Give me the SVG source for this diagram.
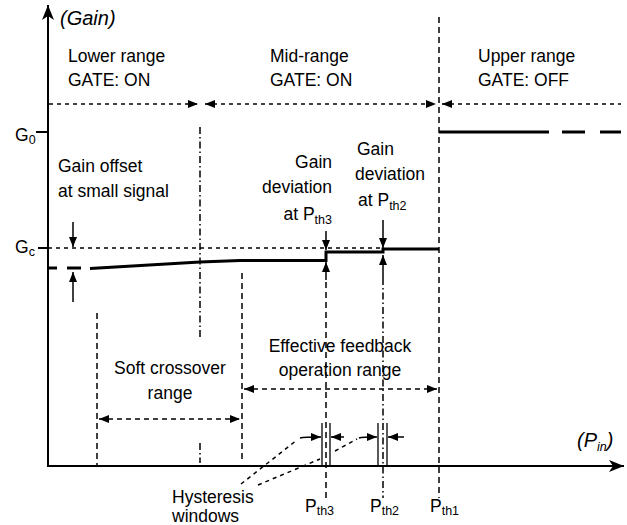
<svg xmlns="http://www.w3.org/2000/svg" width="627" height="525" viewBox="0 0 627 525">
  <defs>
    <marker id="tri" markerUnits="userSpaceOnUse" markerWidth="10" markerHeight="8" refX="10" refY="4" orient="auto-start-reverse">
      <path d="M0,0 L10,4 L0,8 z" fill="#000"/>
    </marker>
    <marker id="axis-head" markerUnits="userSpaceOnUse" markerWidth="16" markerHeight="12" refX="15" refY="6" orient="auto">
      <path d="M0,0 L15,6 L0,12 L4,6 z" fill="#000"/>
    </marker>
  </defs>
  <style>
    text { font-family: "Liberation Sans", Arial, sans-serif; font-size: 17.5px; fill: #000; }
    .it { font-style: italic; font-size: 20px; }
    .sub { font-size: 12.5px; }
    .ax { stroke: #000; stroke-width: 2; fill: none; }
    .gain { stroke: #000; stroke-width: 3; fill: none; }
    .dash { stroke: #000; stroke-width: 1.5; stroke-dasharray: 6 4; fill: none; }
    .dashdot { stroke: #000; stroke-width: 1.5; stroke-dasharray: 7 3 1.5 3; fill: none; }
    .fine { stroke: #000; stroke-width: 1.5; stroke-dasharray: 4 4; fill: none; }
    .span { stroke: #000; stroke-width: 1.5; stroke-dasharray: 5 4; fill: none; }
    .solid { stroke: #000; stroke-width: 1.5; fill: none; }
    .win { stroke: #000; stroke-width: 1.3; fill: none; }
  </style>

  <!-- axes -->
  <g id="axes">
    <line class="ax" x1="48" y1="467" x2="48" y2="5" marker-end="url(#axis-head)"/>
    <line class="ax" x1="47" y1="466" x2="624" y2="466" marker-end="url(#axis-head)"/>
    <line class="ax" x1="36" y1="132" x2="48" y2="132"/>
    <line class="ax" x1="38" y1="248" x2="48" y2="248"/>
    <text class="it" x="60" y="25">(Gain)</text>
    <text class="it" x="577" y="447">(P<tspan class="sub" dy="4" font-size="15">in</tspan><tspan dy="-4">)</tspan></text>
    <text x="15" y="141">G<tspan class="sub" dy="3">0</tspan></text>
    <text x="15" y="253">G<tspan class="sub" dy="3">c</tspan></text>
  </g>

  <!-- range headers -->
  <g id="lower-range">
    <text x="68" y="62">Lower range</text>
    <text x="68" y="86">GATE: ON</text>
  </g>
  <g id="mid-range">
    <text x="270" y="62">Mid-range</text>
    <text x="270" y="86">GATE: ON</text>
  </g>
  <g id="upper-range">
    <text x="478" y="62">Upper range</text>
    <text x="478" y="86">GATE: OFF</text>
  </g>

  <!-- connectors: guides, spans and arrows -->
  <g id="connectors">
    <!-- range spans -->
    <line class="fine" x1="49" y1="104" x2="198" y2="104" marker-end="url(#tri)"/>
    <line class="fine" x1="205" y1="104" x2="436" y2="104" marker-start="url(#tri)" marker-end="url(#tri)"/>
    <line class="fine" x1="442" y1="104" x2="621" y2="104" marker-start="url(#tri)"/>

    <!-- vertical guides -->
    <line class="dash" x1="439" y1="17" x2="439" y2="498"/>
    <line class="dashdot" x1="200" y1="127" x2="200" y2="338"/>
    <line class="dashdot" x1="200" y1="443" x2="200" y2="463"/>
    <line class="dash" x1="97" y1="313" x2="97" y2="466"/>
    <line class="dash" x1="242" y1="273" x2="242" y2="462"/>
    <line class="dash" x1="326" y1="282" x2="326" y2="498"/>
    <line class="dashdot" x1="383" y1="278" x2="383" y2="498"/>

    <!-- Gc reference level -->
    <line class="fine" x1="48" y1="248" x2="383" y2="248"/>

    <!-- offset / deviation arrows -->
    <line class="solid" x1="73" y1="222" x2="73" y2="247" marker-end="url(#tri)"/>
    <line class="solid" x1="73" y1="302" x2="73" y2="272" marker-end="url(#tri)"/>
    <line class="solid" x1="326" y1="231" x2="326" y2="250" marker-end="url(#tri)"/>
    <line class="solid" x1="326" y1="280" x2="326" y2="262" marker-end="url(#tri)"/>
    <line class="solid" x1="383" y1="220" x2="383" y2="248" marker-end="url(#tri)"/>
    <line class="solid" x1="383" y1="278" x2="383" y2="255" marker-end="url(#tri)"/>

    <!-- operating ranges -->
    <line class="span" x1="99" y1="419" x2="240" y2="419" marker-start="url(#tri)" marker-end="url(#tri)"/>
    <line class="span" x1="244" y1="389" x2="437" y2="389" marker-start="url(#tri)" marker-end="url(#tri)"/>

    <!-- hysteresis windows -->
    <line class="win" x1="322" y1="423" x2="322" y2="466"/>
    <line class="win" x1="330" y1="423" x2="330" y2="466"/>
    <line class="win" x1="378" y1="423" x2="378" y2="466"/>
    <line class="win" x1="387" y1="423" x2="387" y2="466"/>
    <path class="solid" d="M300,438 Q304,437 321,437" marker-end="url(#tri)"/>
    <line class="solid" x1="344" y1="437" x2="331" y2="437" marker-end="url(#tri)"/>
    <path class="solid" d="M359,438 Q362,437 377,437" marker-end="url(#tri)"/>
    <line class="solid" x1="404" y1="437" x2="388" y2="437" marker-end="url(#tri)"/>

    <!-- leaders from the hysteresis label -->
    <path class="fine" d="M241,484 L297,440"/>
    <path class="fine" d="M258,485 L320,459 M335,451 L357,439"/>
  </g>

  <!-- gain characteristic -->
  <g id="gain-curve">
    <line class="gain" x1="49" y1="268" x2="57" y2="268"/>
    <line class="gain" x1="67" y1="268" x2="81" y2="268"/>
    <path class="gain" d="M90,268.5 L200,262 L240,260.5 L326,260.5 L326,252 L383,252 L383,249 L439,249"/>
    <path class="gain" d="M439,132 L549,132"/>
    <line class="gain" x1="562" y1="132" x2="585" y2="132"/>
    <line class="gain" x1="600" y1="132" x2="621" y2="132"/>
  </g>

  <!-- annotations -->
  <g id="gain-offset">
    <text x="58" y="172">Gain offset</text>
    <text x="58" y="197">at small signal</text>
  </g>
  <g id="deviation-pth3">
    <text x="332" y="168" text-anchor="end">Gain</text>
    <text x="332" y="193" text-anchor="end">deviation</text>
    <text x="332" y="220" text-anchor="end">at P<tspan class="sub" dy="4">th3</tspan></text>
  </g>
  <g id="deviation-pth2">
    <text x="357" y="155">Gain</text>
    <text x="355" y="180">deviation</text>
    <text x="358" y="206">at P<tspan class="sub" dy="4">th2</tspan></text>
  </g>
  <g id="soft-crossover">
    <text x="170" y="374" text-anchor="middle">Soft crossover</text>
    <text x="170" y="399" text-anchor="middle">range</text>
  </g>
  <g id="feedback-range">
    <text x="340" y="352" text-anchor="middle">Effective feedback</text>
    <text x="340" y="376" text-anchor="middle">operation range</text>
  </g>
  <g id="hysteresis">
    <text x="172" y="503">Hysteresis</text>
    <text x="172" y="522">windows</text>
  </g>
  <g id="thresholds">
    <text x="305" y="512">P<tspan class="sub" dy="3">th3</tspan></text>
    <text x="370" y="512">P<tspan class="sub" dy="3">th2</tspan></text>
    <text x="430" y="512">P<tspan class="sub" dy="3">th1</tspan></text>
  </g>
</svg>
